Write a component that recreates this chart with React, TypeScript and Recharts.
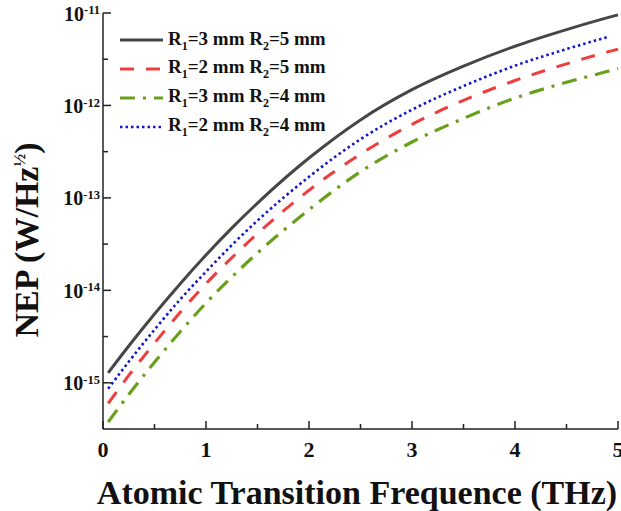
import { LineChart, Line, XAxis, YAxis, Legend } from 'recharts';

// frequency (THz)
const freq = [0.05, 0.25, 0.5, 0.75, 1, 1.25, 1.5, 2, 2.5, 3, 3.5, 4, 4.5, 4.9, 5];

// NEP (W/Hz^1/2)
const nepR3R5 = [1.28e-15, 2.5e-15, 5.55e-15, 1.18e-14, 2.41e-14, 4.71e-14, 8.79e-14, 2.7e-13, 6.98e-13, 1.48e-12, 2.66e-12, 4.37e-12, 6.61e-12, 8.91e-12, 9.55e-12];
const nepR2R5 = [5.97e-16, 1.2e-15, 2.69e-15, 5.79e-15, 1.18e-14, 2.25e-14, 4.11e-14, 1.21e-13, 2.98e-13, 6.24e-13, 1.135e-12, 1.86e-12, 2.82e-12, 3.8e-12, 4.07e-12];
const nepR3R4 = [3.77e-16, 7.46e-16, 1.67e-15, 3.57e-15, 7.28e-15, 1.39e-14, 2.54e-14, 7.45e-14, 1.92e-13, 4.02e-13, 7.24e-13, 1.2e-12, 1.78e-12, 2.34e-12, 2.51e-12];
const nepR2R4 = [8.63e-16, 1.69e-15, 3.75e-15, 8.0e-15, 1.59e-14, 3.08e-14, 5.68e-14, 1.69e-13, 4.31e-13, 9.0e-13, 1.62e-12, 2.69e-12, 4.07e-12, 5.5e-12, null];

const xTicks = [0, 0.5, 1, 1.5, 2, 2.5, 3, 3.5, 4, 4.5, 5];
const yTickExp = [-15, -14.5, -14, -13.5, -13, -12.5, -12, -11.5, -11];

const data = freq.map((f, i) => ({
  f,
  a: nepR3R5[i],
  b: nepR2R5[i],
  c: nepR3R4[i],
  d: nepR2R4[i],
}));

const series = [
  { key: 'a', r1: '3', r2: '5', color: '#464646', dash: undefined, width: 3 },
  { key: 'b', r1: '2', r2: '5', color: '#f03c3c', dash: '14 12', width: 3 },
  { key: 'c', r1: '3', r2: '4', color: '#68a01c', dash: '15 8 3 8', width: 3.2 },
  { key: 'd', r1: '2', r2: '4', color: '#1414c8', dash: '2.5 3', width: 2.6 },
];

const FONT = '"Liberation Serif", "Times New Roman", serif';
const PLOT_LEFT = 103;
const PLOT_BOTTOM = 429;
const AXIS = '#222';

const YTick = (props: any) => {
  const { y, payload } = props;
  const exp = Math.round(Math.log10(payload.value) * 2) / 2;
  const major = Number.isInteger(exp);
  return (
    <g>
      <line x1={PLOT_LEFT} x2={PLOT_LEFT + (major ? 8 : 5)} y1={y} y2={y} stroke={AXIS} strokeWidth={1.5} />
      {major && (
        <text x={100} y={y + 7.6} textAnchor="end" fontFamily={FONT} fontWeight="bold" fontSize={20} fill="#111">
          10<tspan dy={-6.5} fontSize={12.5}>{exp}</tspan>
        </text>
      )}
    </g>
  );
};

const XTick = (props: any) => {
  const { x, payload } = props;
  const major = Number.isInteger(payload.value);
  return (
    <g>
      <line x1={x} x2={x} y1={PLOT_BOTTOM} y2={PLOT_BOTTOM - (major ? 8 : 5)} stroke={AXIS} strokeWidth={1.5} />
      {major && (
        <text x={x} y={457} textAnchor="middle" fontFamily={FONT} fontWeight="bold" fontSize={22} fill="#111">
          {payload.value}
        </text>
      )}
    </g>
  );
};

const xTitle = () => (
  <text x={357} y={504} textAnchor="middle" fontFamily={FONT} fontWeight="bold" fontSize={34} fill="#111">
    Atomic Transition Frequence (THz)
  </text>
);

const yTitle = () => (
  <text x={38} y={240} transform="rotate(-90, 38, 240)" textAnchor="middle" fontFamily={FONT} fontWeight="bold" fontSize={34} fill="#111">
    NEP (W/Hz<tspan dy={-13} fontSize={17}>½</tspan><tspan dy={13}>)</tspan>
  </text>
);

const LegendBox = () => (
  <div style={{ fontFamily: FONT, fontWeight: 'bold', fontSize: 19, color: '#111' }}>
    {series.map((s) => (
      <div key={s.key} style={{ display: 'flex', alignItems: 'center', height: 28.8, whiteSpace: 'nowrap' }}>
        <svg width={48} height={12} style={{ display: 'block' }}>
          <line x1={0} x2={43} y1={6} y2={6} stroke={s.color} strokeWidth={s.width} strokeDasharray={s.dash} />
        </svg>
        <span>
          R<sub style={{ fontSize: 12 }}>1</sub>={s.r1} mm R<sub style={{ fontSize: 12 }}>2</sub>={s.r2} mm
        </span>
      </div>
    ))}
  </div>
);

export default function App() {
  return (
    <div style={{ position: 'absolute', left: 0, top: 0, width: 621, height: 511, background: '#fff' }}>
      <LineChart width={621} height={511} data={data} margin={{ top: 13, right: 3, left: 0, bottom: 0 }}>
        <XAxis
          dataKey="f"
          type="number"
          domain={[0, 5]}
          ticks={xTicks}
          interval={0}
          height={82}
          tickLine={false}
          tick={<XTick />}
          stroke={AXIS}
          strokeWidth={1.5}
          label={xTitle}
        />
        <XAxis xAxisId="top" orientation="top" type="number" domain={[0, 5]} height={0} tick={false} tickLine={false} stroke={AXIS} strokeWidth={1.5} />
        <YAxis
          scale="log"
          type="number"
          domain={[10 ** -15.5, 1e-11]}
          allowDataOverflow
          ticks={yTickExp.map((e) => 10 ** e)}
          interval={0}
          width={103}
          tickLine={false}
          tick={<YTick />}
          stroke={AXIS}
          strokeWidth={1.5}
          label={yTitle}
        />
        <YAxis yAxisId="right" orientation="right" type="number" domain={[0, 1]} width={0} tick={false} tickLine={false} stroke={AXIS} strokeWidth={1.5} />
        <Legend
          layout="vertical"
          align="center"
          verticalAlign="middle"
          content={<LegendBox />}
          wrapperStyle={{ left: 120, top: 26, width: 'auto' }}
        />
        {series.map((s) => (
          <Line
            key={s.key}
            dataKey={s.key}
            type="monotone"
            stroke={s.color}
            strokeWidth={s.width}
            strokeDasharray={s.dash}
            dot={false}
            isAnimationActive={false}
          />
        ))}
      </LineChart>
    </div>
  );
}
